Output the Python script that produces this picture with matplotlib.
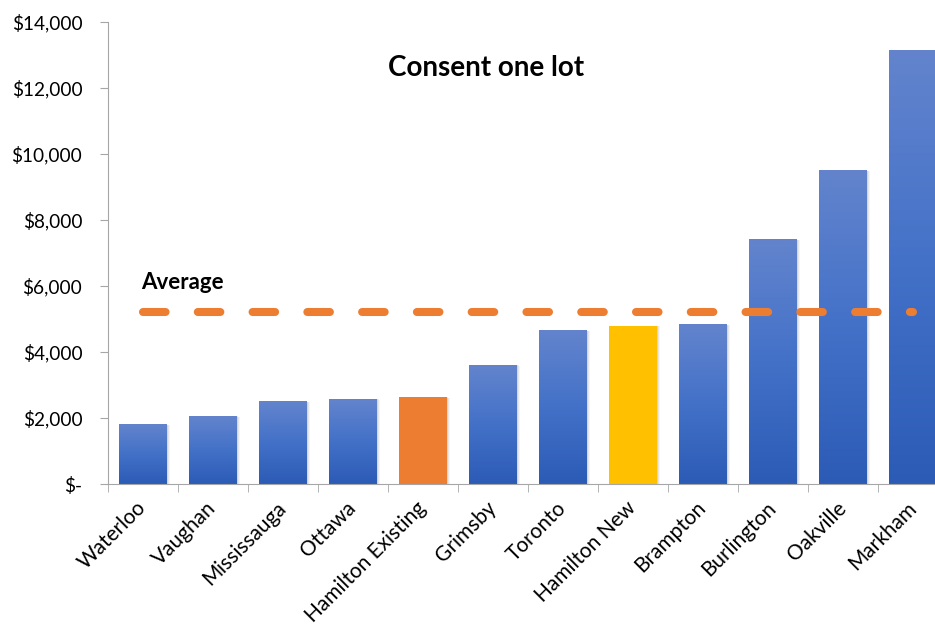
import numpy as np
import matplotlib.pyplot as plt
from matplotlib.colors import LinearSegmentedColormap
from matplotlib.patches import Rectangle
from matplotlib.ticker import FuncFormatter, FixedLocator

# Consent fee for one lot, by municipality
cities = ['Waterloo', 'Vaughan', 'Mississauga', 'Ottawa', 'Hamilton Existing',
          'Grimsby', 'Toronto', 'Hamilton New', 'Brampton', 'Burlington',
          'Oakville', 'Markham']
fees = [1800, 2050, 2500, 2570, 2630, 3600, 4650, 4800, 4820, 7400, 9500, 13150]
highlight = {'Hamilton Existing': '#ED7D31', 'Hamilton New': '#FFC000'}

# the average line is taken over the other municipalities only
others = [f for c, f in zip(cities, fees) if c not in highlight]
average = np.mean(others)

plt.rcParams['font.family'] = ['Lato', 'DejaVu Sans']

fig = plt.figure(figsize=(9.35, 6.25), dpi=100)
ax = fig.add_axes([108/935, 141/625, 840/935, 462/625])

blues = LinearSegmentedColormap.from_list('bars', ['#2C5BB6', '#4371C8', '#6384CD'])
grad = np.linspace(0, 1, 256).reshape(-1, 1)
w = 0.68
x = np.arange(len(cities))

for i, (c, v) in enumerate(zip(cities, fees)):
    # soft shadow on the right
    for k, a in [(0.05, 0.08), (0.03, 0.12), (0.015, 0.15)]:
        ax.add_patch(Rectangle((i - w/2 + k, 0), w, v - k*300, color='#808080',
                               alpha=a, lw=0, zorder=1))
    if c in highlight:
        ax.add_patch(Rectangle((i - w/2, 0), w, v, color=highlight[c], lw=0, zorder=2))
    else:
        ax.imshow(grad, cmap=blues, origin='lower', aspect='auto',
                  extent=(i - w/2, i + w/2, 0, v), zorder=2)

ax.plot(x, [average] * len(x), color='#ED7D31', lw=5.8, dashes=(2.8, 4.0),
        dash_capstyle='round', solid_capstyle='round', zorder=3)
ax.text(-0.02, 6100, 'Average', fontsize=16, fontweight='bold', ha='left', va='center')

ax.set_xlim(-0.5, len(cities) - 0.5)
ax.set_ylim(0, 14000)
ax.set_yticks(range(0, 14001, 2000))
ax.yaxis.set_major_formatter(FuncFormatter(lambda v, p: '$-' if v == 0 else '${:,.0f}'.format(v)))
ax.set_xticks(x)
ax.set_xticklabels(cities, rotation=45, ha='right', va='center', rotation_mode='anchor')
ax.xaxis.set_minor_locator(FixedLocator(np.arange(-0.5, len(cities), 1)))

for s in ['top', 'right']:
    ax.spines[s].set_visible(False)
for s in ['left', 'bottom']:
    ax.spines[s].set_color('#A6A6A6')
ax.tick_params(axis='y', length=5.5, color='#A6A6A6', pad=13, labelsize=13.7)
ax.tick_params(axis='x', which='major', length=0, pad=15, labelsize=15)
ax.tick_params(axis='x', which='minor', length=5.5, color='#A6A6A6')

fig.text(486/935, 1 - 68/625, 'Consent one lot', fontsize=20, fontweight='bold',
         ha='center', va='center')

fig.savefig('out.png', dpi=100)
